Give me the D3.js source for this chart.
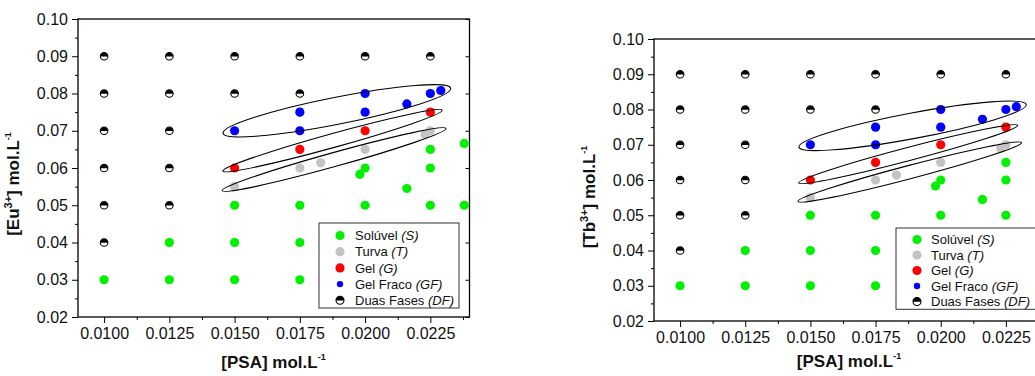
<!DOCTYPE html>
<html><head><meta charset="utf-8">
<script src="https://cdn.jsdelivr.net/npm/d3@7"></script>
<style>
body{margin:0;background:#fff;overflow:hidden}
svg{display:block}
text{font-family:"Liberation Sans",Arial,sans-serif}
</style>
</head><body>
<svg id="c" width="1035" height="376"></svg>
<script>
// ---------- data ----------
const xTickValues = [0.0100, 0.0125, 0.0150, 0.0175, 0.0200, 0.0225];
const xTickLabels = ["0.0100", "0.0125", "0.0150", "0.0175", "0.0200", "0.0225"];
const yTickValues = [0.02, 0.03, 0.04, 0.05, 0.06, 0.07, 0.08, 0.09, 0.10];
const yTickLabels = ["0.02", "0.03", "0.04", "0.05", "0.06", "0.07", "0.08", "0.09", "0.10"];
const xMinorTicks = [0.01125, 0.01375, 0.01625, 0.01875, 0.02125, 0.02375];
const yMinorTicks = [0.025, 0.035, 0.045, 0.055, 0.065, 0.075, 0.085, 0.095];
const xDomain = [0.009, 0.024];
const yDomain = [0.02, 0.10];

const ionNames = ["Eu", "Tb"];
const ionCharges = ["3+", "3+"];

const legendLabels = ["Solúvel ", "Turva ", "Gel ", "Gel Fraco ", "Duas Fases "];
const legendAbbrev = ["(S)", "(T)", "(G)", "(GF)", "(DF)"];

// Solúvel (S)
const solubleX = [0.0100, 0.0125, 0.0125, 0.0150, 0.0150, 0.0150, 0.0175, 0.0175, 0.0175,
                  0.0200, 0.0200, 0.0198, 0.0216, 0.0225, 0.0225, 0.0225, 0.0238, 0.0238];
const solubleY = [0.030, 0.040, 0.030, 0.050, 0.040, 0.030, 0.050, 0.040, 0.030,
                  0.050, 0.060, 0.0583, 0.0545, 0.050, 0.060, 0.065, 0.050, 0.0666];
// Turva (T)
const turvaX = [0.0150, 0.0175, 0.0183, 0.0200, 0.0223, 0.0225];
const turvaY = [0.055, 0.060, 0.0614, 0.065, 0.0690, 0.0700];
// Gel (G)
const gelX = [0.0150, 0.0175, 0.0200, 0.0225];
const gelY = [0.060, 0.065, 0.070, 0.075];
// Gel Fraco (GF)
const gelFracoX = [0.0150, 0.0175, 0.0175, 0.0200, 0.0200, 0.0216, 0.0225, 0.0229];
const gelFracoY = [0.070, 0.070, 0.075, 0.075, 0.080, 0.0772, 0.080, 0.0808];
// Duas Fases (DF)
const duasX = [0.0100, 0.0100, 0.0100, 0.0100, 0.0100, 0.0100,
               0.0125, 0.0125, 0.0125, 0.0125, 0.0125,
               0.0150, 0.0150, 0.0175, 0.0175, 0.0200, 0.0225];
const duasY = [0.090, 0.080, 0.070, 0.060, 0.050, 0.040,
               0.090, 0.080, 0.070, 0.060, 0.050,
               0.090, 0.080, 0.090, 0.080, 0.090, 0.090];

// region outlines: major-axis ends (data units)
const regionX1 = [0.01456, 0.01455, 0.01452];
const regionY1 = [0.06932, 0.05919, 0.05391];
const regionX2 = [0.02328, 0.02295, 0.02310];
const regionY2 = [0.08140, 0.07549, 0.07060];

// ---------- layout / style ----------
const colors = {S: "#00f000", T: "#c3c3c3", G: "#ff0000", GF: "#0000ff"};
const panels = [
  {x0: 78, x1: 469.5, y0: 19, y1: 317, ytx: 19, yty: 184, xtx: 273.5, xty: 368,
   leg: {x: 319, y: 223, w: 140, h: 85, mx: 340, tx: 355, r0: 235.5, dr: 16.2}},
  {x0: 654, x1: 1045, y0: 39, y1: 321, ytx: 595, yty: 197, xtx: 849, xty: 367,
   leg: {x: 896, y: 228, w: 160, h: 81.3, mx: 917, tx: 931, r0: 239.5, dr: 15.5}}
];
const regionMinor = [13.5, 7, 7];

const svg = d3.select("#c");
const FONT = '"Liberation Sans", Arial, sans-serif';

function zip(xs, ys) { return xs.map((x, i) => [x, ys[i]]); }

function dfMarker(g, r) {
  g.append("circle").attr("r", r).attr("fill", "#fff").attr("stroke", "#000").attr("stroke-width", 1.1);
  g.append("path").attr("d", `M${-r},0.3 A${r},${r} 0 0 1 ${r},0.3 Z`).attr("fill", "#000");
}

panels.forEach((p, pi) => {
  const x = d3.scaleLinear().domain(xDomain).range([p.x0, p.x1]);
  const y = d3.scaleLinear().domain(yDomain).range([p.y1, p.y0]);
  const g = svg.append("g");
  const ys = (p.y1 - p.y0) / 298;

  // axes
  const xa = g.append("g").attr("transform", `translate(0,${p.y1})`)
    .call(d3.axisBottom(x).tickValues(xTickValues).tickFormat((d, i) => xTickLabels[i]).tickSize(6).tickPadding(5));
  const xm = g.append("g").attr("transform", `translate(0,${p.y1})`)
    .call(d3.axisBottom(x).tickValues(xMinorTicks).tickFormat("").tickSize(3));
  const ya = g.append("g").attr("transform", `translate(${p.x0},0)`)
    .call(d3.axisLeft(y).tickValues(yTickValues).tickFormat((d, i) => yTickLabels[i]).tickSize(6).tickPadding(4));
  const ym = g.append("g").attr("transform", `translate(${p.x0},0)`)
    .call(d3.axisLeft(y).tickValues(yMinorTicks).tickFormat("").tickSize(3));
  const yr = g.append("g").attr("transform", `translate(${p.x1},0)`)
    .call(d3.axisRight(y).tickValues(yTickValues).tickFormat("").tickSize(-4));
  [xa, xm, ya, ym, yr].forEach(a => {
    a.select(".domain").remove();
    a.selectAll("line").attr("stroke", "#000").attr("stroke-width", 1);
    a.selectAll("text").attr("font-family", FONT).attr("font-size", 16).attr("fill", "#111");
    a.attr("font-family", null).attr("font-size", null);
  });
  g.append("rect").attr("x", p.x0).attr("y", p.y0).attr("width", p.x1 - p.x0).attr("height", p.y1 - p.y0)
    .attr("fill", "none").attr("stroke", "#000").attr("stroke-width", 1.3);

  // titles
  const xt = g.append("text").attr("x", p.xtx).attr("y", p.xty).attr("text-anchor", "middle")
    .attr("font-weight", "bold").attr("font-size", 17).attr("fill", "#111");
  xt.append("tspan").text("[PSA] mol.L");
  xt.append("tspan").attr("font-size", 9).attr("dy", -8).text("-1");

  const yt = g.append("text").attr("transform", `translate(${p.ytx},${p.yty}) rotate(-90)`)
    .attr("text-anchor", "middle").attr("font-weight", "bold").attr("font-size", 17).attr("fill", "#111");
  yt.append("tspan").text("[" + ionNames[pi]);
  yt.append("tspan").attr("font-size", 11).attr("dy", -7).text(ionCharges[pi]);
  yt.append("tspan").attr("dy", 7).text("] mol.L");
  yt.append("tspan").attr("font-size", 9).attr("dy", -8).text("-1");

  // points
  const R = 4.6;
  const series = [
    [zip(solubleX, solubleY), colors.S],
    [zip(turvaX, turvaY), colors.T],
    [zip(gelX, gelY), colors.G],
    [zip(gelFracoX, gelFracoY), colors.GF]
  ];
  series.forEach(([pts, c]) => {
    g.append("g").selectAll("circle").data(pts).join("circle")
      .attr("cx", d => x(d[0])).attr("cy", d => y(d[1])).attr("r", R).attr("fill", c);
  });
  g.append("g").selectAll("g").data(zip(duasX, duasY)).join("g")
    .attr("transform", d => `translate(${x(d[0])},${y(d[1])})`)
    .each(function () { dfMarker(d3.select(this), 3.8); });

  // region outlines
  regionX1.forEach((_, i) => {
    const ax = x(regionX1[i]), ay = y(regionY1[i]), bx = x(regionX2[i]), by = y(regionY2[i]);
    const cx = (ax + bx) / 2, cy = (ay + by) / 2;
    const a = Math.hypot(bx - ax, by - ay) / 2;
    const ang = Math.atan2(by - ay, bx - ax) * 180 / Math.PI;
    g.append("ellipse").attr("cx", cx).attr("cy", cy).attr("rx", a).attr("ry", regionMinor[i] * ys)
      .attr("transform", `rotate(${ang},${cx},${cy})`)
      .attr("fill", "none").attr("stroke", "#000").attr("stroke-width", 1.1);
  });

  // legend
  const L = p.leg;
  const lg = g.append("g");
  lg.append("rect").attr("x", L.x).attr("y", L.y).attr("width", L.w).attr("height", L.h)
    .attr("fill", "#fff").attr("stroke", "#333").attr("stroke-width", 1);
  const legColors = [colors.S, colors.T, colors.G, colors.GF, null];
  const legR = [4.6, 4.6, 4.6, 3.2, 4];
  legendLabels.forEach((lab, i) => {
    const cy = L.r0 + i * L.dr;
    if (legColors[i]) {
      lg.append("circle").attr("cx", L.mx).attr("cy", cy).attr("r", legR[i]).attr("fill", legColors[i]);
    } else {
      dfMarker(lg.append("g").attr("transform", `translate(${L.mx},${cy})`), legR[i]);
    }
    const t = lg.append("text").attr("x", L.tx).attr("y", cy + 4.6).attr("font-size", 13).attr("fill", "#111");
    t.append("tspan").text(lab);
    t.append("tspan").attr("font-style", "italic").text(legendAbbrev[i]);
  });
});
</script>
</body></html>
